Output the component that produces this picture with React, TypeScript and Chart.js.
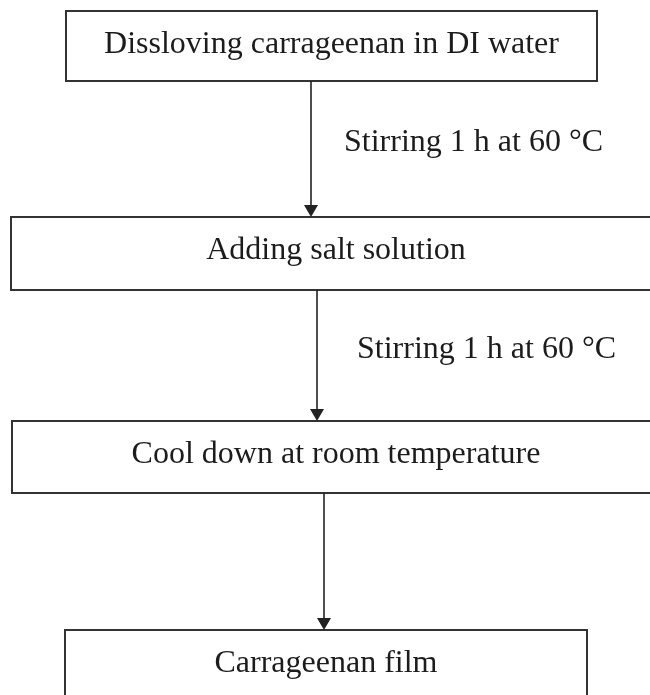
import React, { useEffect, useRef } from "react";
import { Chart, registerables } from "chart.js";

Chart.register(...registerables);

// ---- content ----
const stepTexts = [
  "Dissloving carrageenan in DI water",
  "Adding salt solution",
  "Cool down at room temperature",
  "Carrageenan film",
];
const transitionTexts = ["Stirring 1 h at 60 °C", "Stirring 1 h at 60 °C", ""];

// ---- layout in diagram units (x: 0..650, y: 0..695 top-down) ----
const boxLeft = [66, 11, 12, 65];
const boxRight = [597, 661, 660, 587];
const boxTop = [11, 217, 421, 630];
const boxBottom = [81, 290, 493, 720];
const arrowX = [311, 317, 324];
const labelX = [344, 357, 0];

const X_MAX = 650;
const Y_MAX = 695;

const flowPlugin = {
  id: "flow",
  afterDraw(chart: any) {
    const ctx = chart.ctx as CanvasRenderingContext2D;
    const xs = chart.scales.x;
    const ys = chart.scales.y;
    const px = (v: number) => xs.getPixelForValue(v);
    const py = (v: number) => ys.getPixelForValue(v);
    ctx.save();
    ctx.fillStyle = "#ffffff";
    ctx.fillRect(0, 0, chart.width, chart.height);

    const font = '32px "Liberation Serif", "Times New Roman", serif';
    // boxes
    stepTexts.forEach((t, i) => {
      const l = px(boxLeft[i]);
      const r = px(boxRight[i]);
      const tp = py(boxTop[i]);
      const bt = py(boxBottom[i]);
      ctx.strokeStyle = "#333333";
      ctx.lineWidth = 2;
      ctx.strokeRect(l, tp, r - l, bt - tp);
      ctx.fillStyle = "#1c1c1c";
      ctx.font = font;
      ctx.textAlign = "center";
      ctx.textBaseline = "alphabetic";
      ctx.fillText(t, (l + r) / 2, py(boxTop[i] + 42));
    });

    // arrows + labels
    transitionTexts.forEach((t, i) => {
      const x = px(arrowX[i]);
      const y0 = py(boxBottom[i]);
      const y1 = py(boxTop[i + 1]);
      ctx.strokeStyle = "#222222";
      ctx.lineWidth = 1.6;
      ctx.beginPath();
      ctx.moveTo(x, y0);
      ctx.lineTo(x, y1 - 10);
      ctx.stroke();
      ctx.fillStyle = "#222222";
      ctx.beginPath();
      ctx.moveTo(x - 7, y1 - 12);
      ctx.lineTo(x + 7, y1 - 12);
      ctx.lineTo(x, y1);
      ctx.closePath();
      ctx.fill();
      if (t) {
        ctx.fillStyle = "#1c1c1c";
        ctx.font = font;
        ctx.textAlign = "left";
        ctx.textBaseline = "alphabetic";
        const mid = (boxBottom[i] + boxTop[i + 1]) / 2;
        ctx.fillText(t, px(labelX[i]), py(mid + 2));
      }
    });
    ctx.restore();
  },
};

export default function App() {
  const ref = useRef<HTMLCanvasElement | null>(null);
  useEffect(() => {
    if (!ref.current) return;
    const chart = new Chart(ref.current, {
      type: "scatter",
      data: { datasets: [{ data: [], showLine: false }] },
      options: {
        animation: false,
        responsive: false,
        devicePixelRatio: 1,
        layout: { padding: 0 },
        plugins: { legend: { display: false }, tooltip: { enabled: false } },
        scales: {
          x: { type: "linear", min: 0, max: X_MAX, display: false },
          y: { type: "linear", min: 0, max: Y_MAX, reverse: true, display: false },
        },
      },
      plugins: [flowPlugin],
    });
    return () => chart.destroy();
  }, []);
  return (
    <div style={{ position: "fixed", left: 0, top: 0, width: 650, height: 695, background: "#fff" }}>
      <canvas ref={ref} width={650} height={695} style={{ width: 650, height: 695, display: "block" }} />
    </div>
  );
}
